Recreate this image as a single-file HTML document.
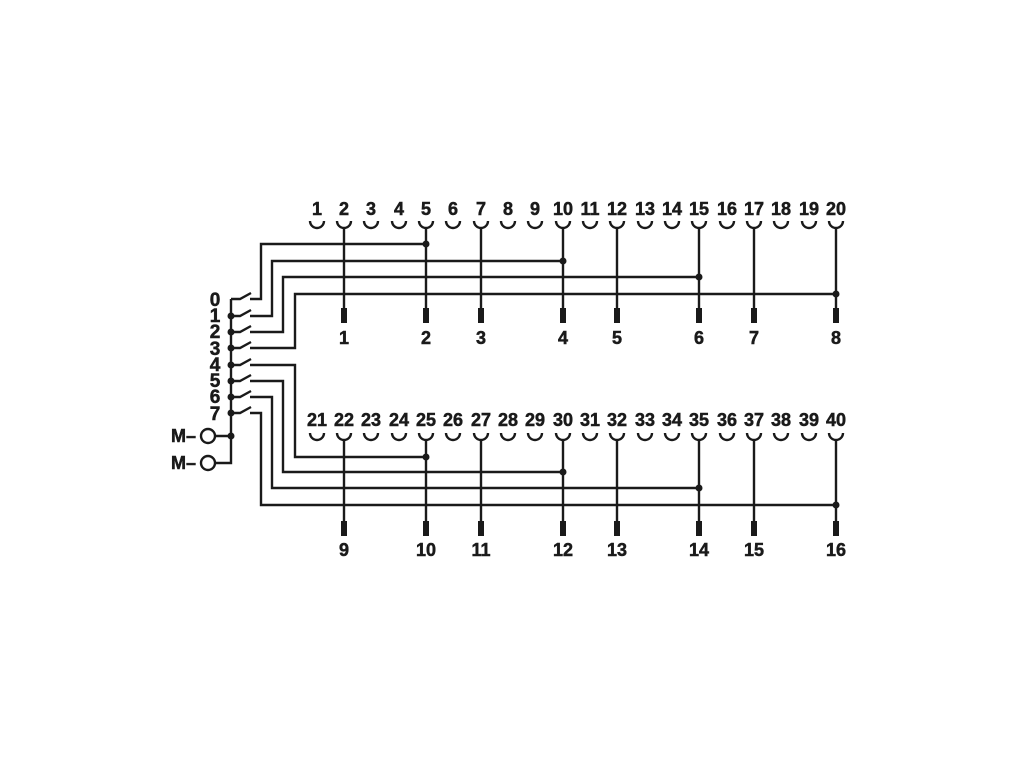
<!DOCTYPE html>
<html><head><meta charset="utf-8"><style>html,body{margin:0;padding:0;background:#fff}svg{display:block}svg text{font-family:"Liberation Sans",sans-serif;font-weight:700;font-size:18px;stroke:#1a1a1a;stroke-width:0.5px}</style></head>
<body>
<svg width="1020" height="765" viewBox="0 0 1020 765" xmlns="http://www.w3.org/2000/svg">
<rect width="1020" height="765" fill="#fff"/>
<g stroke="#1a1a1a" stroke-width="2.4" fill="none">
<path d="M310,221 a7,7 0 0 0 14,0 M337,221 a7,7 0 0 0 14,0 M364,221 a7,7 0 0 0 14,0 M392,221 a7,7 0 0 0 14,0 M419,221 a7,7 0 0 0 14,0 M446,221 a7,7 0 0 0 14,0 M474,221 a7,7 0 0 0 14,0 M501,221 a7,7 0 0 0 14,0 M528,221 a7,7 0 0 0 14,0 M556,221 a7,7 0 0 0 14,0 M583,221 a7,7 0 0 0 14,0 M610,221 a7,7 0 0 0 14,0 M638,221 a7,7 0 0 0 14,0 M665,221 a7,7 0 0 0 14,0 M692,221 a7,7 0 0 0 14,0 M720,221 a7,7 0 0 0 14,0 M747,221 a7,7 0 0 0 14,0 M774,221 a7,7 0 0 0 14,0 M802,221 a7,7 0 0 0 14,0 M829,221 a7,7 0 0 0 14,0"/>
<path d="M310,433 a7,7 0 0 0 14,0 M337,433 a7,7 0 0 0 14,0 M364,433 a7,7 0 0 0 14,0 M392,433 a7,7 0 0 0 14,0 M419,433 a7,7 0 0 0 14,0 M446,433 a7,7 0 0 0 14,0 M474,433 a7,7 0 0 0 14,0 M501,433 a7,7 0 0 0 14,0 M528,433 a7,7 0 0 0 14,0 M556,433 a7,7 0 0 0 14,0 M583,433 a7,7 0 0 0 14,0 M610,433 a7,7 0 0 0 14,0 M638,433 a7,7 0 0 0 14,0 M665,433 a7,7 0 0 0 14,0 M692,433 a7,7 0 0 0 14,0 M720,433 a7,7 0 0 0 14,0 M747,433 a7,7 0 0 0 14,0 M774,433 a7,7 0 0 0 14,0 M802,433 a7,7 0 0 0 14,0 M829,433 a7,7 0 0 0 14,0"/>
<path d="M344,228 V312 M426,228 V312 M481,228 V312 M563,228 V312 M617,228 V312 M699,228 V312 M754,228 V312 M836,228 V312"/>
<path d="M344,440 V524 M426,440 V524 M481,440 V524 M563,440 V524 M617,440 V524 M699,440 V524 M754,440 V524 M836,440 V524"/>
<path d="M250,299 H261 V244 H426 M250,316 H272 V261 H563 M250,332 H283 V277 H699 M250,348 H295 V294 H836"/>
<path d="M250,365 H295 V457 H426 M250,381 H283 V472 H563 M250,397 H272 V488 H699 M250,413 H261 V505 H836"/>
<path d="M231,299 V463 H215 M215,436 H231"/>
<path d="M231,299 H240 L251,293 M231,316 H240 L251,310 M231,332 H240 L251,326 M231,348 H240 L251,342 M231,365 H240 L251,359 M231,381 H240 L251,375 M231,397 H240 L251,391 M231,413 H240 L251,407"/>
<circle cx="208" cy="436" r="7"/><circle cx="208" cy="463" r="7"/>
</g>
<g fill="#1a1a1a">
<rect x="341" y="308" width="6" height="15"/><rect x="423" y="308" width="6" height="15"/><rect x="478" y="308" width="6" height="15"/><rect x="560" y="308" width="6" height="15"/><rect x="614" y="308" width="6" height="15"/><rect x="696" y="308" width="6" height="15"/><rect x="751" y="308" width="6" height="15"/><rect x="833" y="308" width="6" height="15"/>
<rect x="341" y="521" width="6" height="15"/><rect x="423" y="521" width="6" height="15"/><rect x="478" y="521" width="6" height="15"/><rect x="560" y="521" width="6" height="15"/><rect x="614" y="521" width="6" height="15"/><rect x="696" y="521" width="6" height="15"/><rect x="751" y="521" width="6" height="15"/><rect x="833" y="521" width="6" height="15"/>
<circle cx="426" cy="244" r="3.5"/><circle cx="563" cy="261" r="3.5"/><circle cx="699" cy="277" r="3.5"/><circle cx="836" cy="294" r="3.5"/>
<circle cx="426" cy="457" r="3.5"/><circle cx="563" cy="472" r="3.5"/><circle cx="699" cy="488" r="3.5"/><circle cx="836" cy="505" r="3.5"/>
<circle cx="231" cy="316" r="3.5"/><circle cx="231" cy="332" r="3.5"/><circle cx="231" cy="348" r="3.5"/><circle cx="231" cy="365" r="3.5"/><circle cx="231" cy="381" r="3.5"/><circle cx="231" cy="397" r="3.5"/><circle cx="231" cy="413" r="3.5"/><circle cx="231" cy="436" r="3.5"/>
</g>
<g fill="#1a1a1a" text-anchor="middle">
<text y="215"><tspan x="317">1</tspan><tspan x="344">2</tspan><tspan x="371">3</tspan><tspan x="399">4</tspan><tspan x="426">5</tspan><tspan x="453">6</tspan><tspan x="481">7</tspan><tspan x="508">8</tspan><tspan x="535">9</tspan><tspan x="563">10</tspan><tspan x="590">11</tspan><tspan x="617">12</tspan><tspan x="645">13</tspan><tspan x="672">14</tspan><tspan x="699">15</tspan><tspan x="727">16</tspan><tspan x="754">17</tspan><tspan x="781">18</tspan><tspan x="809">19</tspan><tspan x="836">20</tspan></text>
<text y="426"><tspan x="317">21</tspan><tspan x="344">22</tspan><tspan x="371">23</tspan><tspan x="399">24</tspan><tspan x="426">25</tspan><tspan x="453">26</tspan><tspan x="481">27</tspan><tspan x="508">28</tspan><tspan x="535">29</tspan><tspan x="563">30</tspan><tspan x="590">31</tspan><tspan x="617">32</tspan><tspan x="645">33</tspan><tspan x="672">34</tspan><tspan x="699">35</tspan><tspan x="727">36</tspan><tspan x="754">37</tspan><tspan x="781">38</tspan><tspan x="809">39</tspan><tspan x="836">40</tspan></text>
<text y="344"><tspan x="344">1</tspan><tspan x="426">2</tspan><tspan x="481">3</tspan><tspan x="563">4</tspan><tspan x="617">5</tspan><tspan x="699">6</tspan><tspan x="754">7</tspan><tspan x="836">8</tspan></text>
<text y="556"><tspan x="344">9</tspan><tspan x="426">10</tspan><tspan x="481">11</tspan><tspan x="563">12</tspan><tspan x="617">13</tspan><tspan x="699">14</tspan><tspan x="754">15</tspan><tspan x="836">16</tspan></text>
<text x="215" y="306" style="font-size:19px">0</text><text x="215" y="322" style="font-size:19px">1</text><text x="215" y="338" style="font-size:19px">2</text><text x="215" y="355" style="font-size:19px">3</text><text x="215" y="371" style="font-size:19px">4</text><text x="215" y="387" style="font-size:19px">5</text><text x="215" y="403" style="font-size:19px">6</text><text x="215" y="420" style="font-size:19px">7</text>
</g>
<g fill="#1a1a1a">
<text x="171" y="442">M–</text><text x="171" y="469">M–</text>
</g>
</svg>
</body></html>
